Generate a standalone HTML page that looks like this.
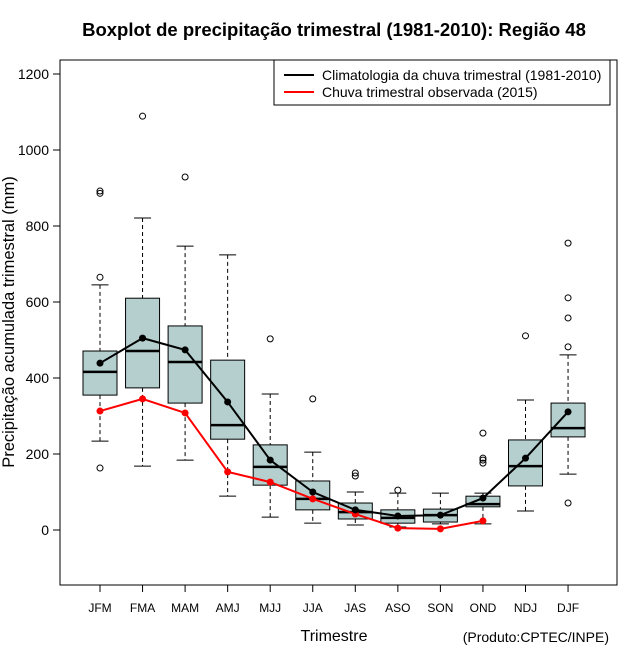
<!DOCTYPE html>
<html><head><meta charset="utf-8"><style>
body{margin:0;background:#fff;}
svg{display:block;font-family:"Liberation Sans",sans-serif;}
</style></head><body>
<svg id="chart" width="640" height="660" viewBox="0 0 640 660">
<rect width="640" height="660" fill="#fff"/>
<text x="334" y="36" text-anchor="middle" font-size="18.5" font-weight="bold">Boxplot de precipitação trimestral (1981-2010): Região 48</text>
<rect x="60" y="60" width="557" height="525" fill="none" stroke="#000" stroke-width="1"/>
<text transform="translate(14,322) rotate(-90)" text-anchor="middle" font-size="16.5">Precipitação acumulada trimestral (mm)</text>
<text x="334" y="641" text-anchor="middle" font-size="16">Trimestre</text>
<text x="609" y="642" text-anchor="end" font-size="14">(Produto:CPTEC/INPE)</text>
<g>
<rect x="274" y="60" width="336" height="45" fill="#fff" stroke="#000"/>
<line x1="284" y1="75" x2="314" y2="75" stroke="#000" stroke-width="2"/>
<text x="322" y="80" font-size="14">Climatologia da chuva trimestral (1981-2010)</text>
<line x1="284" y1="92" x2="314" y2="92" stroke="#f00" stroke-width="2"/>
<text x="322" y="97" font-size="14">Chuva trimestral observada (2015)</text>
</g>
<g id="g"></g>
</svg>
<script>
const categories=["JFM","FMA","MAM","AMJ","MJJ","JJA","JAS","ASO","SON","OND","NDJ","DJF"];
const whiskerLow=[234,168,184,89,34,18,13,8,16,16,50,147];
const q1=[355,374,334,239,118,53,29,18,21,61,116,245];
const median=[416,471,442,276,166,82,47,32,39,68,168,268];
const q3=[471,610,537,447,224,129,71,53,55,89,237,334];
const whiskerHigh=[645,821,747,724,358,205,100,97,97,97,342,461];
const outliers=[[892,886,665,163],[1089],[929],[],[503],[345],[150,142],[105],[],[255,189,184,176],[511],[755,611,558,482,71]];
const climatology=[439,505,474,337,184,100,53,37,39,84,189,311];
const observed=[313,345,308,153,126,82,42,5,3,24];
const yTicks=[0,200,400,600,800,1000,1200];

const NS="http://www.w3.org/2000/svg";
const g=document.getElementById("g");
function X(i){return 100+i*42.55;}
function Y(v){return 530-v*0.38;}
function mk(t,a,parent){const e=document.createElementNS(NS,t);for(const k in a)e.setAttribute(k,a[k]);(parent||g).appendChild(e);return e;}

yTicks.forEach(v=>{
  const t=mk("line",{x1:53,x2:60,y1:Y(v),y2:Y(v),stroke:"#000"});
  
  
  const l=mk("text",{x:49,y:Y(v)+5,"text-anchor":"end","font-size":14});
  
  
  l.textContent=v;
});
categories.forEach((c,i)=>{
  const x=X(i);
  const t=mk("line",{x1:x,x2:x,y1:585,y2:592,stroke:"#000"});
  
  
  const l=mk("text",{x:x,y:612,"text-anchor":"middle","font-size":12});
  
  
  l.textContent=c;
  const bg=mk("g",{});
  
  
  const d={stroke:"#000","stroke-dasharray":"4,3"};
  mk("line",Object.assign({x1:x,x2:x,y1:Y(whiskerHigh[i]),y2:Y(q3[i])},d),bg);
  mk("line",Object.assign({x1:x,x2:x,y1:Y(q1[i]),y2:Y(whiskerLow[i])},d),bg);
  mk("line",{x1:x-8.5,x2:x+8.5,y1:Y(whiskerHigh[i]),y2:Y(whiskerHigh[i]),stroke:"#000"},bg);
  mk("line",{x1:x-8.5,x2:x+8.5,y1:Y(whiskerLow[i]),y2:Y(whiskerLow[i]),stroke:"#000"},bg);
  mk("rect",{x:x-17,y:Y(q3[i]),width:34,height:Y(q1[i])-Y(q3[i]),fill:"#b5cfcf",stroke:"#000"},bg);
  mk("line",{x1:x-17,x2:x+17,y1:Y(median[i]),y2:Y(median[i]),stroke:"#000","stroke-width":2.5},bg);
  outliers[i].forEach(o=>{
    const p=mk("circle",{cx:x,cy:Y(o),r:3,fill:"none",stroke:"#000"});
    
    
  });
});
function series(vals,col,name){
  const pl=mk("polyline",{points:vals.map((v,i)=>X(i)+","+Y(v)).join(" "),fill:"none",stroke:col,"stroke-width":2});
  
  
  vals.forEach((v,i)=>{
    const p=mk("circle",{cx:X(i),cy:Y(v),r:3.5,fill:col});
    
    
  });
}
series(observed,"#f00","observed");
series(climatology,"#000","climatology");
</script>
</body></html>
